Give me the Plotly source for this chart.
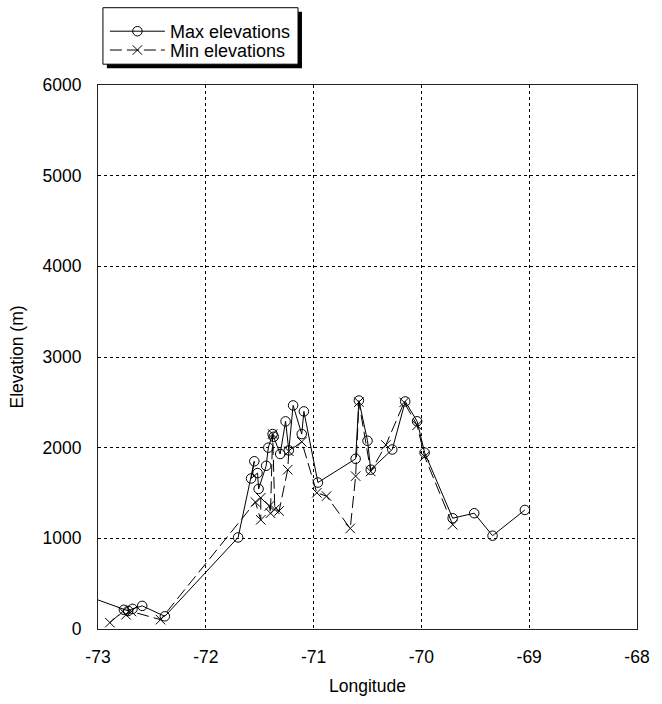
import plotly.graph_objects as go

# ---- data ----
max_lon = [-73.30, -72.76, -72.72, -72.68, -72.59, -72.38, -71.70, -71.55, -71.58, -71.52,
           -71.51, -71.44, -71.42, -71.38, -71.37, -71.31, -71.26, -71.23, -71.19, -71.11,
           -71.09, -70.96, -70.61, -70.58, -70.50, -70.47, -70.27, -70.15, -70.04, -69.97,
           -69.71, -69.51, -69.34, -69.04]
max_elev = [450, 212, 200, 222, 255, 140, 1010, 1850, 1660, 1720,
            1545, 1800, 2000, 2150, 2120, 1930, 2290, 1970, 2466, 2150,
            2400, 1615, 1877, 2520, 2076, 1757, 1980, 2510, 2291, 1945,
            1222, 1277, 1029, 1313]

min_lon = [-72.89, -72.77, -72.74, -72.69, -72.42, -71.54, -71.49, -71.49, -71.41, -71.40,
           -71.38, -71.36, -71.32, -71.24, -71.23, -71.11, -70.97, -70.88, -70.66, -70.61,
           -70.58, -70.47, -70.33, -70.16, -70.04, -69.97, -69.71]
min_elev = [70, 193, 157, 193, 103, 1400, 1204, 1447, 1357, 1277,
            2150, 1320, 1302, 1757, 1960, 2065, 1502, 1466, 1109, 1686,
            2502, 1738, 2030, 2500, 2247, 1902, 1150]

x_ticks = [-73, -72, -71, -70, -69, -68]
y_ticks = [0, 1000, 2000, 3000, 4000, 5000, 6000]

FONT = "Liberation Sans, Arial, Helvetica, sans-serif"

# plot area in pixels (for paper-coordinate helpers)
L, R, T, B = 98, 645, 85, 634
def px(x):
    return (x - L) / (R - L)
def py(y):
    return (B - y) / (B - T)

fig = go.Figure()
fig.add_trace(go.Scatter(
    x=max_lon, y=max_elev, mode="lines+markers", name="Max elevations",
    line=dict(color="black", width=1),
    marker=dict(symbol="circle-open", size=9.5, color="black", line=dict(width=1)),
    legend="legend",
))
fig.add_trace(go.Scatter(
    x=min_lon, y=min_elev, mode="lines+markers", name="Min elevations",
    line=dict(color="black", width=1, dash="12px,5px"),
    marker=dict(symbol="x-thin-open", size=9.5, color="black", line=dict(width=1, color="black")),
    legend="legend2",
))

axis_common = dict(
    showgrid=True, gridcolor="black", gridwidth=1, griddash="dot",
    showline=True, mirror=True, linecolor="#222", linewidth=1,
    zeroline=False, ticks="",
    tickfont=dict(family=FONT, size=17.5, color="black"),
)

fig.update_xaxes(
    range=[-73, -68], tickvals=x_ticks, ticktext=[str(v) for v in x_ticks],
    ticklabelstandoff=12,
    title=dict(text="Longitude", font=dict(family=FONT, size=17.5, color="black"), standoff=13),
    **axis_common,
)
fig.update_yaxes(
    range=[0, 6000], tickvals=y_ticks, ticktext=[str(v) for v in y_ticks],
    ticklabelstandoff=12,
    title=dict(text="Elevation (m)", font=dict(family=FONT, size=17.5, color="black"), standoff=14),
    **axis_common,
)

# legend box with drop shadow
fig.add_shape(type="rect", xref="paper", yref="paper",
              x0=px(107), x1=px(305), y0=py(68), y1=py(11),
              fillcolor="black", line=dict(width=0), layer="above")
fig.add_shape(type="rect", xref="paper", yref="paper",
              x0=px(103), x1=px(301), y0=py(64), y1=py(7),
              fillcolor="white", line=dict(color="black", width=1), layer="above")

legend_common = dict(
    xanchor="left", yanchor="middle", bgcolor="rgba(0,0,0,0)", borderwidth=0,
    font=dict(family=FONT, size=18, color="black"), itemwidth=55,
)
fig.update_layout(
    width=662, height=704,
    margin=dict(l=L, r=662 - R, t=T, b=704 - B),
    paper_bgcolor="white", plot_bgcolor="white",
    font=dict(family=FONT, size=17.5, color="black"),
    showlegend=True,
    legend=dict(x=px(105), y=py(31), **legend_common),
    legend2=dict(x=px(105), y=py(50), **legend_common),
)

fig.write_html(
    "out.html",
    config={"displayModeBar": False},
    post_script="document.body.style.margin='0';document.body.style.overflow='hidden';",
)
